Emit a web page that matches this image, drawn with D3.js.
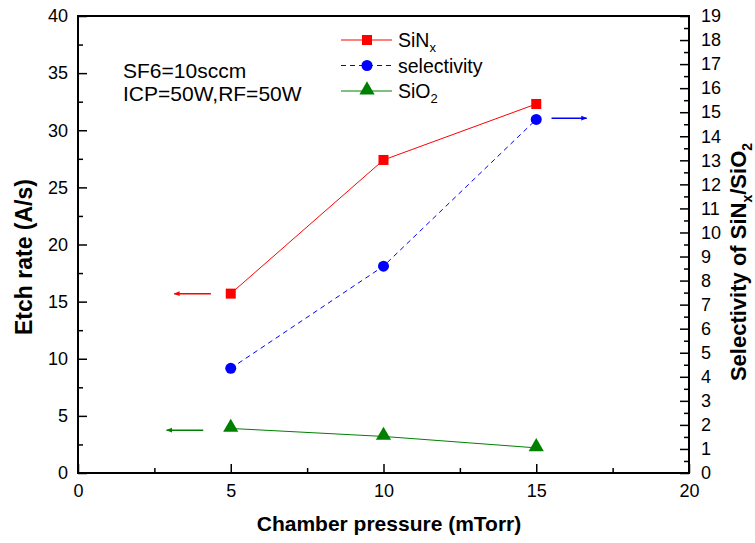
<!DOCTYPE html>
<html><head><meta charset="utf-8">
<script src="https://cdn.jsdelivr.net/npm/d3@7"></script>
<style>body{margin:0;background:#fff}svg{font-family:Arial,"Liberation Sans",sans-serif}</style>
</head><body><svg id="c" width="755" height="543"></svg>
<script>
const pressure = [5, 10, 15];
const sinxRate = [15.7, 27.4, 32.3];
const sio2Rate = [3.9, 3.2, 2.2];
const selectivity = [4.35, 8.6, 14.7];
const xTicks = [0, 5, 10, 15, 20];
const yLeftTicks = [0, 5, 10, 15, 20, 25, 30, 35, 40];
const yRightTicks = d3.range(0, 20);
// arrow annotations in data coords
const arrows = [
  {x1: 4.35, x2: 3.15, y: 15.7, axis: "left", color: "#ff0000"},
  {x1: 4.1, x2: 2.9, y: 3.75, axis: "left", color: "#008000"},
  {x1: 15.5, x2: 16.65, y: 14.75, axis: "right", color: "#0000ff"}
];

const svg = d3.select("#c");
const L = 78, R = 689, T = 16, B = 473;
const x = d3.scaleLinear().domain([0, 20]).range([L, R]);
const yL = d3.scaleLinear().domain([0, 40]).range([B, T]);
const yR = d3.scaleLinear().domain([0, 19]).range([B, T]);

svg.append("defs").selectAll("marker").data(["#ff0000", "#008000", "#0000ff"]).join("marker")
  .attr("id", (d, i) => "ah" + i).attr("viewBox", "0 0 10 10").attr("refX", 9).attr("refY", 5)
  .attr("markerWidth", 8).attr("markerHeight", 6).attr("markerUnits", "userSpaceOnUse")
  .attr("orient", "auto").append("path").attr("d", "M0,1 L10,5 L0,9 Z").attr("fill", d => d);

function styleAxis(g) {
  g.select(".domain").remove();
  g.selectAll("line").attr("stroke", "#000").attr("stroke-width", 1.5);
  g.selectAll("text").attr("font-size", 18).attr("fill", "#000");
}
const gx = svg.append("g").attr("transform", `translate(0,${B})`)
  .call(d3.axisBottom(x).tickValues(xTicks).tickSizeInner(-9).tickSizeOuter(0).tickPadding(11));
styleAxis(gx);
svg.append("g").attr("transform", `translate(0,${B})`)
  .call(d3.axisBottom(x).tickValues([2.5, 7.5, 12.5, 17.5]).tickSizeInner(-5).tickSizeOuter(0).tickFormat(""))
  .call(styleAxis);

const gy = svg.append("g").attr("transform", `translate(${L},0)`)
  .call(d3.axisLeft(yL).tickValues(yLeftTicks).tickSizeInner(-9).tickSizeOuter(0).tickPadding(10));
styleAxis(gy);
svg.append("g").attr("transform", `translate(${L},0)`)
  .call(d3.axisLeft(yL).tickValues(d3.range(2.5, 40, 5)).tickSizeInner(-5).tickSizeOuter(0).tickFormat(""))
  .call(styleAxis);

const gr = svg.append("g").attr("transform", `translate(${R},0)`)
  .call(d3.axisRight(yR).tickValues(yRightTicks).tickSizeInner(-9).tickSizeOuter(0).tickPadding(12));
styleAxis(gr);
svg.append("g").attr("transform", `translate(${R},0)`)
  .call(d3.axisRight(yR).tickValues(d3.range(0.5, 19, 1)).tickSizeInner(-5).tickSizeOuter(0).tickFormat(""))
  .call(styleAxis);

svg.append("rect").attr("x", L).attr("y", T).attr("width", R - L).attr("height", B - T)
  .attr("fill", "none").attr("stroke", "#000").attr("stroke-width", 2);

const lineL = d3.line().x((d, i) => x(pressure[i])).y(d => yL(d));
const lineR = d3.line().x((d, i) => x(pressure[i])).y(d => yR(d));
svg.append("path").attr("d", lineL(sinxRate)).attr("fill", "none").attr("stroke", "#ff0000").attr("stroke-width", 1);
svg.append("path").attr("d", lineL(sio2Rate)).attr("fill", "none").attr("stroke", "#008000").attr("stroke-width", 1);
svg.append("path").attr("d", lineR(selectivity)).attr("fill", "none").attr("stroke", "#0000ff").attr("stroke-width", 1).attr("stroke-dasharray", "5,4");

svg.selectAll(".sq").data(sinxRate).join("rect").attr("x", (d, i) => x(pressure[i]) - 5).attr("y", d => yL(d) - 5)
  .attr("width", 10).attr("height", 10).attr("fill", "#ff0000");
svg.selectAll(".ci").data(selectivity).join("circle").attr("cx", (d, i) => x(pressure[i])).attr("cy", d => yR(d))
  .attr("r", 5.5).attr("fill", "#0000ff");
const tri = d3.symbol().type(d3.symbolTriangle).size(100);
svg.selectAll(".tr").data(sio2Rate).join("path").attr("d", tri)
  .attr("transform", (d, i) => `translate(${x(pressure[i])},${yL(d) - 1})`).attr("fill", "#008000");

const colorIdx = {"#ff0000": 0, "#008000": 1, "#0000ff": 2};
arrows.forEach(a => {
  const yy = a.axis === "left" ? yL(a.y) : yR(a.y);
  svg.append("line").attr("x1", x(a.x1)).attr("x2", x(a.x2)).attr("y1", yy).attr("y2", yy)
    .attr("stroke", a.color).attr("stroke-width", 1.5).attr("marker-end", `url(#ah${colorIdx[a.color]})`);
});

const legend = [
  {name: "SiN", sub: "x", color: "#ff0000", shape: "sq", dash: null},
  {name: "selectivity", sub: "", color: "#0000ff", shape: "ci", dash: "5,4"},
  {name: "SiO", sub: "2", color: "#008000", shape: "tr", dash: null}
];
legend.forEach((d, i) => {
  const yy = 40 + i * 25.5;
  svg.append("line").attr("x1", 341).attr("x2", 392).attr("y1", yy).attr("y2", yy)
    .attr("stroke", d.color).attr("stroke-width", 1).attr("stroke-dasharray", d.dash);
  if (d.shape === "sq") svg.append("rect").attr("x", 362).attr("y", yy - 5).attr("width", 10).attr("height", 10).attr("fill", d.color);
  else if (d.shape === "ci") svg.append("circle").attr("cx", 367).attr("cy", yy).attr("r", 5.5).attr("fill", d.color);
  else svg.append("path").attr("d", tri).attr("transform", `translate(367,${yy - 1})`).attr("fill", d.color);
  const t = svg.append("text").attr("x", 398).attr("y", yy + 7).attr("font-size", 19.5).text(d.name);
  if (d.sub) t.append("tspan").attr("font-size", 13).attr("dy", 5).text(d.sub);
});

svg.append("text").attr("x", 123).attr("y", 78).attr("font-size", 21).text("SF6=10sccm");
svg.append("text").attr("x", 123).attr("y", 101).attr("font-size", 21).text("ICP=50W,RF=50W");

svg.append("text").attr("x", 389).attr("y", 531).attr("text-anchor", "middle").attr("font-size", 21)
  .attr("font-weight", "bold").text("Chamber pressure (mTorr)");
svg.append("text").attr("transform", "translate(32,257) rotate(-90)").attr("text-anchor", "middle")
  .attr("font-size", 23).attr("font-weight", "bold").text("Etch rate (A/s)");
const rt = svg.append("text").attr("transform", "translate(746,262) rotate(-90)").attr("text-anchor", "middle")
  .attr("font-size", 22).attr("font-weight", "bold");
rt.append("tspan").text("Selectivity of SiN");
rt.append("tspan").attr("font-size", 14).attr("dy", 6).text("x");
rt.append("tspan").attr("dy", -6).text("/SiO");
rt.append("tspan").attr("font-size", 14).attr("dy", 6).text("2");
</script></body></html>
